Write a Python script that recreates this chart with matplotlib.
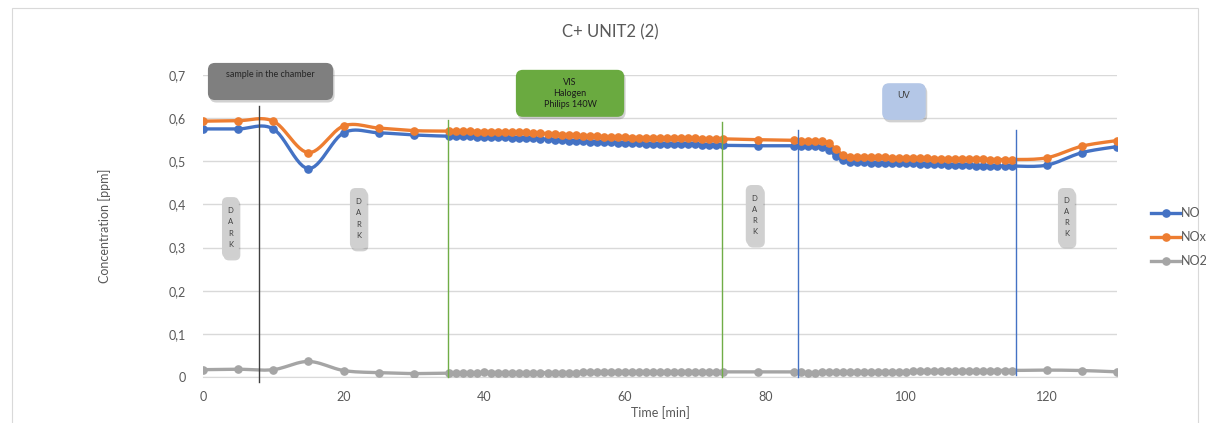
import numpy as np
import matplotlib
matplotlib.use("Agg")
import matplotlib.pyplot as plt
from matplotlib.patches import FancyBboxPatch, Rectangle
from matplotlib.transforms import IdentityTransform

plt.rcParams['font.family'] = ['Lato', 'DejaVu Sans']

# sampling times [min]
t = [0, 5, 10, 15, 20, 25, 30,
     35, 36, 37, 38, 39, 40, 41, 42, 43, 44, 45, 46, 47, 48, 49, 50, 51, 52, 53, 54,
     55, 56, 57, 58, 59, 60, 61, 62, 63, 64, 65, 66, 67, 68, 69, 70, 71, 72, 73, 74,
     79,
     84, 85, 86, 87, 88, 89, 90, 91, 92, 93, 94, 95, 96, 97, 98, 99, 100, 101, 102,
     103, 104, 105, 106, 107, 108, 109, 110, 111, 112, 113, 114, 115,
     120, 125, 130]

no = [0.575, 0.575, 0.575, 0.483, 0.566, 0.566, 0.561,
      0.558, 0.558, 0.558, 0.558, 0.557, 0.557, 0.557, 0.556, 0.556, 0.555, 0.555, 0.554,
      0.553, 0.552, 0.551, 0.550, 0.549, 0.548, 0.547, 0.546, 0.545, 0.545, 0.544, 0.544,
      0.543, 0.543, 0.542, 0.542, 0.541, 0.541, 0.540, 0.540, 0.540, 0.539, 0.539, 0.539,
      0.538, 0.538, 0.537, 0.537,
      0.536,
      0.536, 0.536, 0.535, 0.535, 0.533, 0.527, 0.512, 0.502, 0.499, 0.498, 0.498, 0.497,
      0.497, 0.496, 0.496, 0.495, 0.495, 0.495, 0.494, 0.494, 0.493, 0.493, 0.492, 0.492,
      0.491, 0.491, 0.490, 0.490, 0.489, 0.489, 0.489, 0.489,
      0.491, 0.520, 0.534]

nox = [0.593, 0.594, 0.593, 0.520, 0.582, 0.577, 0.571,
       0.570, 0.570, 0.570, 0.570, 0.569, 0.569, 0.569, 0.569, 0.568, 0.568, 0.567, 0.567,
       0.566, 0.565, 0.564, 0.563, 0.562, 0.561, 0.560, 0.559, 0.558, 0.558, 0.557, 0.557,
       0.556, 0.556, 0.555, 0.555, 0.555, 0.554, 0.554, 0.554, 0.553, 0.553, 0.553, 0.553,
       0.552, 0.552, 0.552, 0.552,
       0.550,
       0.549, 0.548, 0.548, 0.548, 0.547, 0.542, 0.528, 0.515, 0.511, 0.510, 0.510, 0.509,
       0.509, 0.509, 0.508, 0.508, 0.508, 0.507, 0.507, 0.507, 0.506, 0.506, 0.506, 0.506,
       0.505, 0.505, 0.505, 0.505, 0.504, 0.504, 0.504, 0.504,
       0.508, 0.535, 0.548]

no2 = [0.017, 0.018, 0.017, 0.036, 0.015, 0.010, 0.008,
       0.009, 0.009, 0.009, 0.010, 0.010, 0.011, 0.010, 0.010, 0.010, 0.010, 0.010, 0.010,
       0.010, 0.010, 0.010, 0.010, 0.010, 0.010, 0.010, 0.011, 0.012, 0.011, 0.011, 0.011,
       0.011, 0.011, 0.011, 0.012, 0.012, 0.012, 0.012, 0.012, 0.012, 0.012, 0.012, 0.012,
       0.012, 0.012, 0.012, 0.012,
       0.012,
       0.012, 0.011, 0.010, 0.010, 0.011, 0.011, 0.011, 0.012, 0.012, 0.012, 0.012, 0.012,
       0.012, 0.012, 0.012, 0.012, 0.012, 0.013, 0.013, 0.013, 0.014, 0.014, 0.014, 0.014,
       0.014, 0.014, 0.014, 0.014, 0.015, 0.015, 0.015, 0.015,
       0.016, 0.015, 0.012]

series = [("NO", no, "#4472c4"), ("NOx", nox, "#ed7d31"), ("NO2", no2, "#a5a5a5")]

# light switching marks: (time, y top, y bottom, colour)
switches = [(8.0, 0.627, -0.012, "#404040"),
            (34.8, 0.596, 0.0, "#70ad47"),
            (73.8, 0.592, 0.0, "#70ad47"),
            (84.6, 0.573, 0.0, "#4472c4"),
            (115.6, 0.573, 0.004, "#4472c4")]

# labelled boxes: (x0, x1, y0, y1, text, face, text colour, valign)
boxes = [(0.7, 18.5, 0.642, 0.728, "sample in the chamber", "#7f7f7f", "#262626", "top"),
         (44.5, 59.9, 0.603, 0.712, "VIS\nHalogen\nPhilips 140W", "#6aaa40", "#1a1a1a", "center"),
         (96.6, 102.8, 0.596, 0.681, "UV", "#b4c7e7", "#404040", "top"),
         (2.7, 5.1, 0.276, 0.417, "D\nA\nR\nK", "#d0d0d0", "#404040", "center"),
         (20.9, 23.3, 0.297, 0.438, "D\nA\nR\nK", "#d0d0d0", "#404040", "center"),
         (77.2, 79.7, 0.306, 0.445, "D\nA\nR\nK", "#d0d0d0", "#404040", "center"),
         (121.6, 124.0, 0.304, 0.438, "D\nA\nR\nK", "#d0d0d0", "#404040", "center")]


def smooth(x, y, n=12):
    # Catmull-Rom style bezier through every point
    x = np.asarray(x, float)
    y = np.asarray(y, float)
    px = np.concatenate([[x[0]], x, [x[-1]]])
    py = np.concatenate([[y[0]], y, [y[-1]]])
    s = np.linspace(0, 1, n, endpoint=False)
    xs, ys = [], []
    for i in range(1, len(px) - 2):
        for p, out in ((px, xs), (py, ys)):
            p0, p1, p2, p3 = p[i - 1], p[i], p[i + 1], p[i + 2]
            c1 = p1 + (p2 - p0) / 6
            c2 = p2 - (p3 - p1) / 6
            out.extend((1 - s) ** 3 * p1 + 3 * (1 - s) ** 2 * s * c1
                       + 3 * (1 - s) * s ** 2 * c2 + s ** 3 * p2)
    xs.append(x[-1])
    ys.append(y[-1])
    return np.array(xs), np.array(ys)


W, H = 1206, 423
fig = plt.figure(figsize=(W / 100, H / 100), dpi=100)
ax = fig.add_axes([203 / W, 1 - 377 / H, (1117 - 203) / W, (377 - 75) / H])

# chart frame (bottom edge falls just off the image)
fig.add_artist(Rectangle((12 / W, -2 / H), (W - 20) / W, (H - 6) / H,
                         transform=fig.transFigure, fill=False,
                         edgecolor="#d9d9d9", linewidth=0.8))

for name, vals, col in series:
    sx, sy = smooth(t, vals)
    ax.plot(sx, sy, color=col, lw=2.4, zorder=3, solid_capstyle="round")
    ax.plot(t, vals, "o", color=col, ms=5.2, zorder=4)
    ax.plot([], [], "-o", color=col, lw=2.4, ms=5.2, label=name)

ax.set_xlim(0, 130)
ax.set_ylim(0, 0.7)
ax.set_xticks(range(0, 121, 20))
ax.set_yticks(np.arange(0, 0.71, 0.1))
ax.set_yticklabels(["0"] + ["0,%d" % k for k in range(1, 8)])
ax.yaxis.grid(True, color="#d9d9d9", lw=1)
ax.set_axisbelow(True)
for side in ["top", "right", "left"]:
    ax.spines[side].set_visible(False)
ax.spines["bottom"].set_color("#d9d9d9")
ax.tick_params(axis="both", length=0, colors="#595959", labelsize=9)
ax.tick_params(axis="x", pad=10)
ax.tick_params(axis="y", pad=12)
ax.set_xlabel("Time [min]", color="#595959", fontsize=9, labelpad=2)
ax.set_ylabel("Concentration [ppm]", color="#595959", fontsize=9, labelpad=42)
fig.text(610 / W, 1 - 32 / H, "C+ UNIT2 (2)", ha="center", va="center",
         color="#595959", fontsize=12)

for xv, y0, y1, col in switches:
    ax.plot([xv, xv], [y1, y0], color=col, lw=1, zorder=5, clip_on=False)

fig.canvas.draw()
for x0, x1, y0, y1, txt, face, tcol, va in boxes:
    (dx0, dy0), (dx1, dy1) = ax.transData.transform([(x0, y0), (x1, y1)])
    r = min(7, (dx1 - dx0) / 3)
    shadow = FancyBboxPatch((dx0 + 1.5, dy0 - 2.5), dx1 - dx0, dy1 - dy0,
                            boxstyle="round,pad=0,rounding_size=%.1f" % r,
                            transform=IdentityTransform(), facecolor="#000000",
                            edgecolor="none", alpha=0.18, zorder=6)
    box = FancyBboxPatch((dx0, dy0), dx1 - dx0, dy1 - dy0,
                         boxstyle="round,pad=0,rounding_size=%.1f" % r,
                         transform=IdentityTransform(), facecolor=face,
                         edgecolor="none", zorder=7)
    fig.add_artist(shadow)
    fig.add_artist(box)
    cx = (dx0 + dx1) / 2
    if va == "top":
        cy = dy1 - 12
    else:
        cy = (dy0 + dy1) / 2
    small = txt.startswith("D")
    fig.text(cx / W, cy / H, txt, ha="center", va="center", color=tcol,
             fontsize=5.5 if small else 6.5, linespacing=1.7 if small else 1.25,
             zorder=8)

fig.legend(loc="center left", bbox_to_anchor=(1145 / W, 1 - 237 / H), frameon=False,
           fontsize=9, labelcolor="#595959", handlelength=2.3, handletextpad=0.1,
           labelspacing=0.95, borderpad=0)

fig.savefig("out.png", dpi=100)
